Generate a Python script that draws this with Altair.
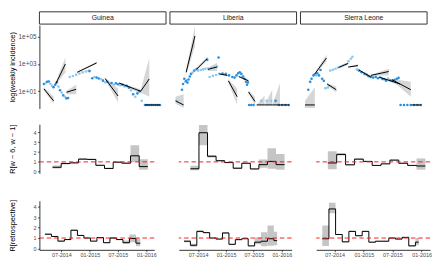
import altair as alt
import pandas as pd
import numpy as np

# ---------------- data (week index: weeks since 2014-01-06) ----------------
ORIGIN = pd.Timestamp("2014-01-06")
COUNTRIES = ["Guinea", "Liberia", "Sierra Leone"]

# weekly incidence points: week, value, shade (d = dark, l = light)
g_dot_w = [10, 11.5, 13, 14.5, 16, 17.5, 19, 20.5, 22, 23.5, 25, 26.5, 28, 29.5, 31, 32.5,
           34, 37, 40, 43, 46, 49, 51.5, 52.5, 55, 57, 59, 61, 63, 65, 67, 69, 71, 73, 75, 77,
           79, 81, 83, 85, 87, 89, 91, 93, 95, 97, 99, 101, 104, 106, 108, 110, 112, 114, 116, 118]
g_dot_v = [34, 40, 50, 52, 36, 25, 20, 30, 45, 22, 12, 8, 5, 4, 3, 3.2,
           110, 130, 165, 200, 240, 280, 320, 300, 90, 110, 100, 85, 75, 60, 45, 50, 35, 40, 30, 38,
           33, 28, 30, 22, 25, 18, 12, 6, 4, 7, 10, 2, 1, 1, 1, 1, 1, 1, 1, 1]
g_dot_s = ["d", "l", "d", "d", "l", "l", "d", "d", "d", "l", "d", "l", "d", "l", "d", "d",
           "l", "l", "l", "l", "l", "l", "l", "d", "d", "l", "d", "d", "l", "d", "l", "d", "l", "d", "l", "d",
           "d", "l", "d", "l", "d", "d", "l", "d", "l", "d", "d", "l", "d", "d", "d", "d", "d", "d", "d", "d"]

l_dot_w = [7.5, 11.9, 12.8, 14.0, 14.8, 15.7, 16.9, 17.8, 19.0, 20.1, 21.6, 23.1, 25.2, 26.6, 29.0,
           31.1, 33.1, 34.9, 35.5, 37, 38.5, 40, 41.4, 42.9, 43.8, 45.2, 45.8, 48.8, 51.7, 54.7, 57.7,
           59.7, 61.5, 63, 64.4, 65.9, 67.4, 68.9, 70.1, 71, 71.8, 73, 75, 77, 84, 89, 93, 97,
           100, 103, 106, 109]
l_dot_v = [2, 13, 34, 82, 50, 58, 43, 72, 120, 187, 230, 325, 420, 325, 360,
           400, 440, 2000, 470, 110, 520, 135, 590, 155, 640, 3000, 187, 200, 187, 145, 110,
           100, 145, 210, 245, 187, 120, 82, 50, 30, 43, 1, 1, 1, 2, 2, 2, 2,
           1, 1, 1, 1]
l_dot_s = ["l", "d", "d", "d", "l", "d", "d", "d", "d", "d", "l", "d", "d", "l", "l",
           "l", "l", "d", "l", "l", "l", "l", "l", "l", "l", "d", "l", "d", "d", "d", "d",
           "d", "d", "d", "d", "d", "d", "d", "d", "d", "d", "d", "d", "d", "l", "l", "l", "d",
           "d", "d", "d", "d"]

s_dot_w = [4.2, 5.9, 7.1, 8.8, 10.0, 11.4, 12.2, 13.7, 15.1, 16.5, 18.0, 19.4, 21.4, 22.6,
           23.7, 26.0, 28.3, 30.6, 33.0, 35.2, 37.5, 39.9, 41.9, 43.3, 47.3, 49.1, 51.4, 54, 56,
           57.7, 59.7, 61.7, 64, 66, 68, 69.8, 71.5, 73.2, 75, 77, 79, 80.7, 82.7, 84.2,
           86, 89, 92, 95, 98, 101, 104]
s_dot_v = [13, 49, 82, 145, 165, 145, 210, 145, 360, 82, 58, 17, 19, 25,
           325, 380, 450, 550, 640, 760, 930, 1600, 2400, 3300, 400, 325, 245, 187, 160,
           125, 110, 100, 110, 90, 100, 80, 75, 60, 84, 64, 58, 70, 82, 95,
           1, 1, 1, 1, 1, 1, 1]
s_dot_s = ["d", "d", "d", "d", "d", "l", "d", "d", "d", "d", "d", "l", "l", "l",
           "l", "l", "l", "l", "l", "l", "l", "l", "l", "l", "l", "d", "d", "d", "d",
           "d", "d", "d", "d", "d", "l", "d", "d", "d", "l", "d", "d", "d", "d", "d",
           "d", "d", "d", "d", "d", "d", "d"]

# fitted segments: start week, end week, start value, end value, ribbon lo/hi at start and end
g_seg = dict(w0=[10, 21, 31, 41, 67, 80, 100, 104],
             w1=[19, 30, 40, 59, 79, 100, 108, 118],
             v0=[15, 35, 8.5, 245, 84, 40, 10, 1],
             v1=[2, 1000, 14, 1200, 4.5, 10, 80, 1],
             lo0=[11, 28, 6, 220, 70, 35, 8, 1],
             hi0=[20, 45, 11, 270, 100, 46, 12, 1],
             lo1=[1.2, 250, 6, 1000, 1.5, 7, 4, 1],
             hi1=[4, 3000, 30, 1400, 15, 14, 2700, 1])
l_seg = dict(w0=[6, 15.7, 25.2, 35.5, 45.8, 54.1, 63.6, 72.4, 79.8, 87, 94, 101],
             w1=[13.4, 23.7, 34.9, 43.8, 53.2, 62.1, 72.4, 78.3, 87, 94, 101, 109.3],
             v0=[2, 245, 415, 400, 187, 58, 120, 9, 1, 1, 1, 1],
             v1=[1, 112000, 2500, 600, 145, 4, 58, 1.8, 1, 1, 1, 1],
             lo0=[1.2, 150, 300, 300, 170, 45, 105, 7, 1, 1, 1, 1],
             hi0=[4, 400, 550, 500, 205, 75, 135, 11, 1, 1, 1, 1],
             lo1=[0.6, 20000, 1800, 300, 120, 1, 45, 1, 1, 1, 1, 1],
             hi1=[6, 600000, 3400, 1200, 175, 15, 75, 4, 5, 13, 38, 1])
s_seg = dict(w0=[1.3, 10, 20.9, 31, 39.6, 49.1, 59.7, 66.9, 78.4, 95.7],
             w1=[10, 20.3, 29, 39.6, 48.2, 59.7, 75.5, 85.6, 95.1, 104.3],
             v0=[1, 187, 34, 550, 590, 360, 145, 110, 70, 1],
             v1=[1, 2700, 13, 1100, 760, 110, 280, 34, 13, 1],
             lo0=[0.6, 160, 28, 500, 540, 330, 130, 100, 62, 1],
             hi0=[2, 220, 40, 600, 640, 390, 160, 120, 78, 1],
             lo1=[0.6, 1500, 8, 900, 600, 90, 150, 25, 4, 1],
             hi1=[20, 5000, 22, 1400, 950, 140, 450, 45, 50, 1])

# R[w-6, w-1] step boundaries (weeks), estimates and intervals
g_r2_w = [17, 25, 33, 41, 49, 57, 65, 73, 81, 89, 97, 105]
g_r2_v = [0.45, 0.83, 0.90, 1.28, 1.25, 0.65, 0.33, 0.97, 0.87, 1.62, 0.52]
g_r2_lo = [0.33, 0.76, 0.84, 1.20, 1.19, 0.60, 0.28, 0.91, 0.82, 1.00, 0.20]
g_r2_hi = [0.62, 0.91, 0.96, 1.38, 1.32, 0.71, 0.40, 1.04, 0.93, 2.70, 1.28]
l_r2_w = [18, 26, 34, 42, 50, 58, 66, 74, 82, 90, 98, 106]
l_r2_v = [0.30, 3.97, 1.57, 1.12, 0.93, 0.35, 0.86, 0.28, 0.72, 1.05, 0.72]
l_r2_lo = [0.15, 2.70, 1.45, 1.05, 0.88, 0.30, 0.80, 0.22, 0.40, 0.30, 0.20]
l_r2_hi = [0.60, 4.75, 1.70, 1.20, 0.98, 0.45, 0.92, 0.35, 1.25, 2.40, 1.80]
s_r2_w = [19, 27, 35, 43, 51, 59, 67, 75, 83, 91, 99, 107]
s_r2_v = [0.89, 1.76, 0.70, 1.28, 1.05, 0.64, 0.80, 1.18, 0.86, 0.64, 0.58]
s_r2_lo = [0.26, 1.65, 0.65, 1.20, 1.00, 0.60, 0.76, 1.12, 0.82, 0.60, 0.20]
s_r2_hi = [2.08, 1.90, 0.75, 1.35, 1.10, 0.68, 0.84, 1.24, 0.90, 0.68, 1.35]

# R[retrospective]
g_r3_w = [10, 16, 22, 28, 34, 40, 46, 52, 58, 64, 70, 76, 82, 88, 94, 98]
g_r3_v = [1.37, 1.15, 0.70, 0.85, 1.75, 1.25, 1.00, 0.70, 1.05, 0.55, 1.00, 0.85, 0.55, 0.95, 0.50]
g_r3_lo = [1.30, 1.10, 0.65, 0.80, 1.68, 1.20, 0.96, 0.66, 1.00, 0.50, 0.90, 0.80, 0.45, 0.60, 0.20]
g_r3_hi = [1.44, 1.20, 0.75, 0.90, 1.82, 1.30, 1.04, 0.74, 1.10, 0.60, 1.10, 0.90, 0.75, 1.35, 0.95]
l_r3_w = [12, 18, 24, 30, 36, 42, 48, 54, 60, 66, 72, 78, 84, 90, 96, 99]
l_r3_v = [0.69, 0.30, 1.64, 1.52, 1.00, 0.90, 1.49, 0.39, 0.84, 0.93, 0.24, 0.60, 0.69, 0.93, 0.75]
l_r3_lo = [0.60, 0.15, 1.55, 1.45, 0.95, 0.85, 1.42, 0.34, 0.80, 0.90, 0.20, 0.40, 0.20, 0.25, 0.30]
l_r3_hi = [0.78, 0.45, 1.75, 1.58, 1.05, 0.95, 1.56, 0.44, 0.88, 0.97, 0.28, 1.05, 1.55, 2.20, 1.60]
s_r3_w = [14, 20, 26, 32, 38, 44, 50, 56, 62, 68, 74, 80, 86, 92, 98, 101]
s_r3_v = [0.93, 3.81, 1.34, 0.63, 1.64, 1.22, 1.64, 0.60, 0.69, 0.69, 1.00, 0.90, 1.06, 0.24, 0.60]
s_r3_lo = [0.24, 3.40, 1.28, 0.58, 1.58, 1.17, 1.58, 0.55, 0.64, 0.64, 0.95, 0.85, 1.00, 0.18, 0.30]
s_r3_hi = [2.20, 4.40, 1.40, 0.68, 1.70, 1.27, 1.70, 0.65, 0.73, 0.73, 1.05, 0.95, 1.12, 0.30, 1.00]

TICK_DATES = ["2014-07-01", "2015-01-01", "2015-07-01", "2016-01-01"]
R_TICKS = [0, 1, 2, 3, 4]

# ---------------- helpers ----------------
def to_date(ws):
    return ORIGIN + pd.to_timedelta(np.asarray(ws, dtype=float) * 7, unit="D")

def ms(w):
    return int((ORIGIN + pd.Timedelta(days=w * 7)).value // 10**6)

def ms_date(s):
    return int(pd.Timestamp(s).value // 10**6)

DARK, LIGHT = "#2b8fde", "#8ec9f0"
RIB1, RIB2 = "#d2d2d2", "#bfbfbf"
FONT = "Liberation Sans"
EXT = 21.5  # fixed y-axis extent so all panels line up

def inc_panel(i, name, dots, seg, dom, width):
    dw, dv, ds = dots
    ddf = pd.DataFrame({"date": to_date(dw), "v": dv, "s": ds})
    rows = []
    for k in range(len(seg["w0"])):
        rows.append((seg["w0"][k], seg["v0"][k], seg["lo0"][k], seg["hi0"][k], k))
        rows.append((seg["w1"][k], seg["v1"][k], seg["lo1"][k], seg["hi1"][k], k))
    sdf = pd.DataFrame(rows, columns=["w", "v", "lo", "hi", "seg"])
    sdf["date"] = to_date(sdf["w"])
    yaxis = None
    if i == 0:
        yaxis = alt.Axis(values=[10, 1000, 100000], grid=False, labelOverlap=False,
                         labelExpr="datum.value >= 100000 ? '1e+05' : datum.value >= 1000 ? '1e+03' : '1e+01'",
                         title="log(weekly incidence)", titlePadding=2,
                         minExtent=EXT, maxExtent=EXT,
                         labelFontSize=6.5, tickSize=2, labelPadding=1.5)
    x = alt.X("date:T", scale=alt.Scale(domain=[ms(dom[0]), ms(dom[1])]), axis=None)
    ysc = alt.Scale(type="log", domain=[0.55, 700000])
    rib = alt.Chart(sdf).mark_area(color=RIB1, opacity=0.9, clip=True).encode(
        x=x, y=alt.Y("lo:Q", scale=ysc, axis=yaxis), y2="hi:Q", detail="seg:N")
    pts = alt.Chart(ddf).mark_circle(size=7, opacity=1, clip=True).encode(
        x=x, y=alt.Y("v:Q", scale=ysc, axis=yaxis),
        color=alt.Color("s:N", scale=alt.Scale(domain=["d", "l"], range=[DARK, LIGHT]), legend=None))
    ln = alt.Chart(sdf).mark_line(color="black", strokeWidth=1, clip=True).encode(
        x=x, y=alt.Y("v:Q", scale=ysc, axis=yaxis), detail="seg:N")
    sdf_n = pd.DataFrame({"country": [name]})
    box = alt.Chart(sdf_n).mark_rect(fill="white", stroke="#333333", strokeWidth=1).encode(
        x=alt.value(0), x2=alt.value(width), y=alt.value(-13.5), y2=alt.value(-1))
    txt = alt.Chart(sdf_n).mark_text(fontSize=7, color="#1a1a1a", font=FONT).encode(
        x=alt.value(width / 2), y=alt.value(-7), text="country:N")
    return alt.layer(rib, pts, ln, box, txt).properties(width=width, height=85)

def r_panel(i, wb, v, lo, hi, dom, width, height, ydom, title, show_x):
    rdf = pd.DataFrame({"d0": to_date(wb[:-1]), "d1": to_date(wb[1:]), "lo": lo, "hi": hi})
    ldf = pd.DataFrame({"d0": to_date(wb), "lo": list(v) + [v[-1]]})
    rule_df = pd.DataFrame({"lo": [1]})
    xaxis = None
    if show_x:
        xaxis = alt.Axis(values=[ms_date(s) for s in TICK_DATES],
                         format="%m-%Y", grid=False, title=None, labelFontSize=5.5,
                         labelOverlap=False, labelFlush=False, tickCount=4,
                         tickSize=2, labelPadding=1, domainColor="black")
    yaxis = None
    if i == 0:
        yaxis = alt.Axis(values=R_TICKS, grid=False, title=title, titlePadding=2,
                         minExtent=EXT, maxExtent=EXT, labelOverlap=False, tickCount=5,
                         labelFontSize=5.5, tickSize=2, labelPadding=1.5)
    X = alt.X("d0:T", scale=alt.Scale(domain=[ms(dom[0]), ms(dom[1])]), axis=xaxis)
    Y = alt.Y("lo:Q", scale=alt.Scale(domain=ydom, nice=False, zero=False), axis=yaxis)
    rib = alt.Chart(rdf).mark_rect(color=RIB2, opacity=0.9, clip=True).encode(
        x=X, x2="d1:T", y=Y, y2="hi:Q")
    ln = alt.Chart(ldf).mark_line(color="black", strokeWidth=1, interpolate="step-after", clip=True).encode(
        x=X, y=Y)
    ref = alt.Chart(rule_df).mark_rule(color="#ff1a1a", strokeDash=[4.5, 3], strokeWidth=1).encode(y=Y)
    return alt.layer(rib, ln, ref).properties(width=width, height=height)

W1 = 129
dots = [(g_dot_w, g_dot_v, g_dot_s), (l_dot_w, l_dot_v, l_dot_s), (s_dot_w, s_dot_v, s_dot_s)]
segs = [g_seg, l_seg, s_seg]
dom1 = [(5.8, 123.6), (0.95, 116.1), (-2.7, 109.5)]
dom23 = [(4.9, 110.9), (7.15, 112.6), (8.5, 111.2)]
wid23 = [117, 115, 116]
r2 = [(g_r2_w, g_r2_v, g_r2_lo, g_r2_hi), (l_r2_w, l_r2_v, l_r2_lo, l_r2_hi), (s_r2_w, s_r2_v, s_r2_lo, s_r2_hi)]
r3 = [(g_r3_w, g_r3_v, g_r3_lo, g_r3_hi), (l_r3_w, l_r3_v, l_r3_lo, l_r3_hi), (s_r3_w, s_r3_v, s_r3_lo, s_r3_hi)]

row1 = alt.hconcat(*[inc_panel(i, COUNTRIES[i], dots[i], segs[i], dom1[i], W1) for i in range(3)],
                   spacing=4, bounds="flush")

def rrow(data, height, ydom, title, show_x):
    p = [r_panel(i, *data[i], dom23[i], wid23[i], height, ydom, title, show_x) for i in range(3)]
    return alt.hconcat(*p, spacing=25, bounds="flush")

row2 = rrow(r2, 50, [-0.16, 4.84], "R[w − 6, w − 1]", False)
row3 = rrow(r3, 50, [-0.14, 4.6], "R[retrospective]", True)

bottom = alt.vconcat(row2, row3, spacing=24)
chart = alt.vconcat(row1, bottom, spacing=15).properties(
    padding={"left": 0, "top": 1, "right": 0, "bottom": 0}
).configure_view(stroke=None).configure_axis(
    labelFont=FONT, titleFont=FONT, labelColor="#4d4d4d", tickColor="#333333",
    domainColor="black", domainWidth=0.8, tickWidth=0.8, titleFontWeight="normal",
    titleFontSize=7.5, titleColor="black"
)

chart.save("out.html", embed_options={"renderer": "svg", "actions": False})
